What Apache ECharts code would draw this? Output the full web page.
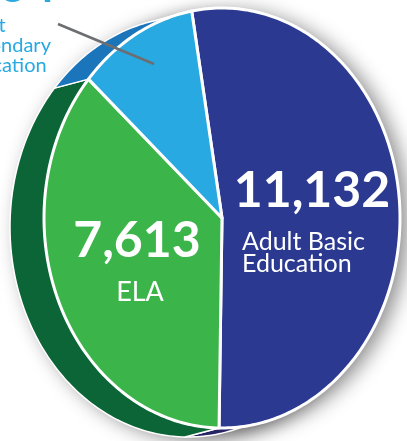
<!DOCTYPE html>
<html>
<head>
<meta charset="utf-8">
<script src="https://cdn.jsdelivr.net/npm/echarts@6/dist/echarts.min.js"></script>
<style>
  html, body { margin: 0; padding: 0; background: #fff; }
  #chart { width: 407px; height: 441px; }
</style>
</head>
<body>
<div id="chart"></div>
<script>
// data
const categories = ['Adult Basic Education', 'ELA', 'Adult Secondary Education'];
const values = [11132, 7613, 2264];
const labelLines = [['Adult Basic', 'Education'], ['ELA'], ['Adult', 'Secondary', 'Education']];

const faceColors = ['#2b3990', '#3bb54a', '#28a9e1'];
const sideColors = ['#262464', '#0c6536', '#1b75bb'];

// tilted disc: top face ellipse + depth offset for the rim
const cx = 222, cy = 218, rx = 178, ry = 210;
const depthX = -34, depthY = 9;
const startDeg = -9.8;

const total = values.reduce((a, b) => a + b, 0);

function pt(deg, dx, dy) {
  const t = deg * Math.PI / 180;
  return [cx + dx + rx * Math.sin(t), cy + dy - ry * Math.cos(t)];
}

function sliceRange(i) {
  let before = 0;
  for (let k = 0; k < i; k++) before += values[k];
  const a0 = startDeg + before / total * 360;
  return [a0, a0 + values[i] / total * 360];
}

function arc(a0, a1, dx, dy) {
  const pts = [];
  const n = Math.max(2, Math.ceil(Math.abs(a1 - a0)));
  for (let j = 0; j <= n; j++) pts.push(pt(a0 + (a1 - a0) * j / n, dx, dy));
  return pts;
}

function renderShadow(params) {
  const shadow = { fill: '#fff', shadowBlur: 20, shadowColor: 'rgba(0,0,0,0.45)', shadowOffsetX: 8, shadowOffsetY: 3 };
  return {
    type: 'group',
    children: [
      { type: 'polygon', shape: { points: arc(0, 360, 0, 0) }, style: shadow },
      { type: 'polygon', shape: { points: arc(0, 360, depthX, depthY) }, style: shadow }
    ]
  };
}

function renderSide(params) {
  const i = params.dataIndex;
  const [a0, a1] = sliceRange(i);
  const pts = arc(a0, a1, 0, 0).concat(arc(a1, a0, depthX, depthY));
  return {
    type: 'polygon',
    shape: { points: pts },
    style: { fill: sideColors[i], stroke: '#fff', lineWidth: 1.5, lineJoin: 'round' }
  };
}

function renderFace(params) {
  const i = params.dataIndex;
  const [a0, a1] = sliceRange(i);
  const pts = [[cx, cy]].concat(arc(a0, a1, 0, 0));
  return {
    type: 'polygon',
    shape: { points: pts },
    style: { fill: faceColors[i], stroke: '#fff', lineWidth: 3, lineJoin: 'round' }
  };
}

const seriesData = values.map((v, i) => ({ name: categories[i], value: v }));
const fmt = v => v.toLocaleString('en-US');
const font = 'Lato, "Open Sans", sans-serif';

function txt(x, y, text, size, weight, color, align) {
  return {
    type: 'text', x: x, y: y, z: 10,
    style: {
      text: text, fill: color, fontSize: size, fontWeight: weight,
      fontFamily: font, align: align || 'center', verticalAlign: 'middle'
    }
  };
}

const chart = echarts.init(document.getElementById('chart'));
chart.setOption({
  animation: false,
  series: [
    { type: 'custom', coordinateSystem: 'none', z: 1, silent: true, data: [0], renderItem: renderShadow },
    { type: 'custom', coordinateSystem: 'none', z: 2, data: seriesData, renderItem: renderSide },
    { type: 'custom', coordinateSystem: 'none', z: 3, data: seriesData, renderItem: renderFace }
  ],
  graphic: [
    { type: 'line', z: 10, shape: { x1: 58, y1: 24, x2: 154, y2: 64 }, style: { stroke: '#6d6e71', lineWidth: 2.5 } },
    txt(312, 191, fmt(values[0]), 50, 'bold', '#fff'),
    txt(242, 242, labelLines[0][0], 25, 'normal', '#fff', 'left'),
    txt(242, 264, labelLines[0][1], 25, 'normal', '#fff', 'left'),
    txt(137, 241, fmt(values[1]), 50, 'bold', '#fff'),
    txt(140, 292, labelLines[1][0], 27, 'normal', '#fff'),
    txt(56, -14, fmt(values[2]), 50, 'bold', '#28a9e1', 'right'),
    txt(-42, 26, labelLines[2][0], 20, 'normal', '#28a9e1', 'left'),
    txt(-41, 46, labelLines[2][1], 20, 'normal', '#28a9e1', 'left'),
    txt(-41, 66, labelLines[2][2], 20, 'normal', '#28a9e1', 'left')
  ]
});
</script>
</body>
</html>
